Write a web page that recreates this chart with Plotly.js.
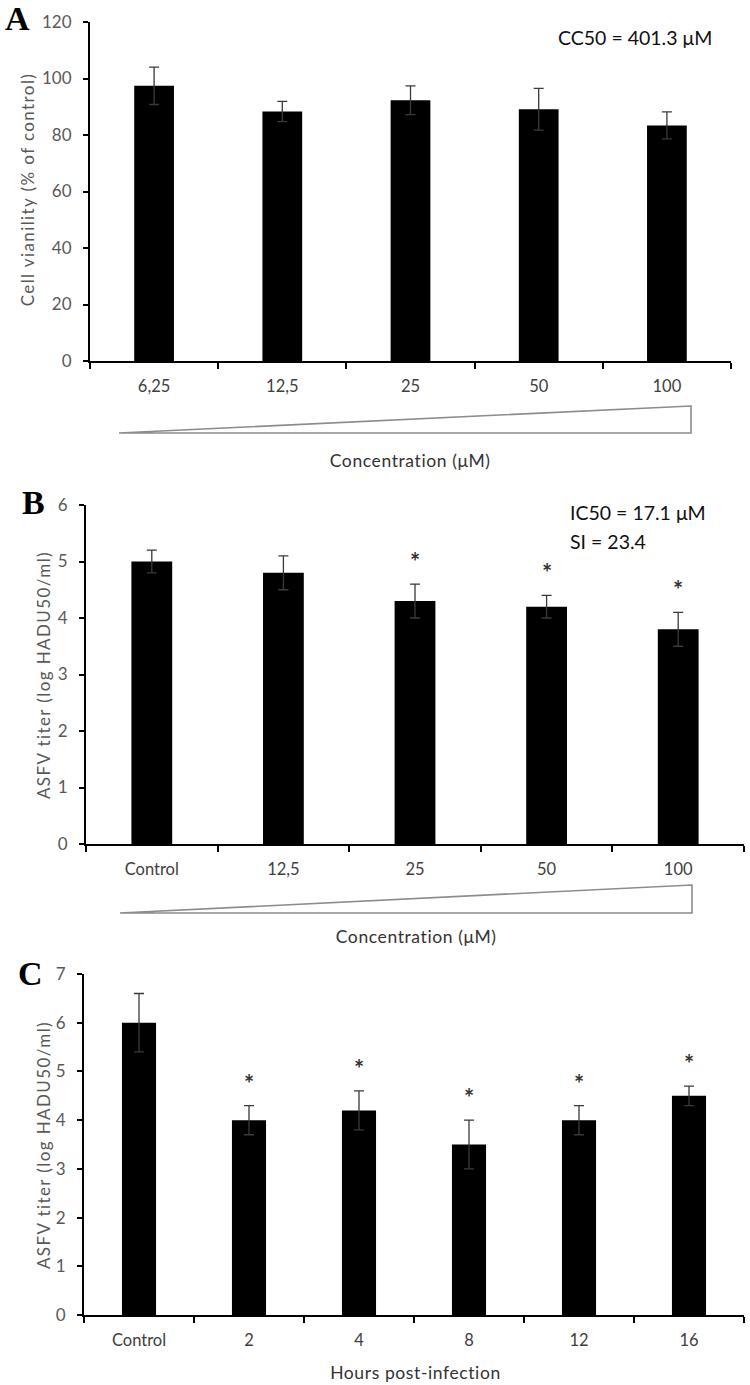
<!DOCTYPE html>
<html>
<head>
<meta charset="utf-8">
<script src="https://cdn.plot.ly/plotly-3.0.1.min.js"></script>
<style>
html,body{margin:0;padding:0;background:#fff;}
#chart{width:750px;height:1385px;}
.annotation.spaced text{letter-spacing:1.4px;}
.annotation.spaced2 text{letter-spacing:0.6px;}
</style>
</head>
<body>
<div id="chart"></div>
<script>
// Panel A: cell viability
const catsA = ["6,25", "12,5", "25", "50", "100"];
const valsA = [97.4, 88.3, 92.3, 89.1, 83.4];
const errA  = [6.6, 3.6, 5.1, 7.4, 4.8];

// Panel B: ASFV titer vs concentration
const catsB = ["Control", "12,5", "25", "50", "100"];
const valsB = [5.0, 4.8, 4.3, 4.2, 3.8];
const errB  = [0.2, 0.3, 0.3, 0.2, 0.3];
const sigB  = [false, false, true, true, true];

// Panel C: ASFV titer vs hours post-infection
const catsC = ["Control", "2", "4", "8", "12", "16"];
const valsC = [6.0, 4.0, 4.2, 3.5, 4.0, 4.5];
const errC  = [0.6, 0.3, 0.4, 0.5, 0.3, 0.2];
const sigC  = [false, true, true, true, true, true];

const W = 750, H = 1385;
const px = v => v / W;
const py = v => 1 - v / H;
const FONT = "Lato, 'Open Sans', sans-serif";

function barTrace(cats, vals, errs, xa, ya) {
  return {
    type: "bar", x: cats, y: vals, xaxis: xa, yaxis: ya,
    width: 0.31,
    marker: {color: "#000000", line: {width: 0}},
    error_y: {type: "data", array: errs, visible: true, color: "#3a3a3a", thickness: 1.3, width: 5},
    hoverinfo: "skip", showlegend: false
  };
}

const data = [
  barTrace(catsA, valsA, errA, "x", "y"),
  barTrace(catsB, valsB, errB, "x2", "y2"),
  barTrace(catsC, valsC, errC, "x3", "y3")
];

function xAxis(domain, anchor, nCats) {
  return {
    domain: domain, anchor: anchor, type: "category",
    range: [-0.5, nCats - 0.5],
    showline: true, linecolor: "#000", linewidth: 2,
    ticks: "outside", tickson: "boundaries", ticklen: 6, tickwidth: 2, tickcolor: "#000",
    showgrid: false, zeroline: false, fixedrange: true,
    ticklabelstandoff: 9,
    tickfont: {family: FONT, size: 16.5, color: "#404040"}
  };
}
function yAxis(domain, anchor, range, dtick) {
  return {
    domain: domain, anchor: anchor, range: range, dtick: dtick,
    showline: true, linecolor: "#000", linewidth: 2,
    ticks: "outside", ticklen: 5, tickwidth: 2, tickcolor: "#000",
    showgrid: false, zeroline: false, fixedrange: true,
    ticklabelstandoff: 8,
    tickfont: {family: FONT, size: 17, color: "#595959"}
  };
}

const annotations = [];
const spacedIdx = [], spaced2Idx = [];
function addText(text, x, y, size, color, opts, cls) {
  if (cls === 1) spacedIdx.push(annotations.length);
  if (cls === 2) spaced2Idx.push(annotations.length);
  annotations.push(Object.assign({
    xref: "paper", yref: "paper", x: px(x), y: py(y), text: text, showarrow: false,
    font: {family: FONT, size: size, color: color}, xanchor: "center", yanchor: "middle"
  }, opts || {}));
}

// Panel letters
const letterFont = "'Liberation Serif', 'Times New Roman', serif";
addText("<b>A</b>", 17, 19, 34, "#000", {font: {family: letterFont, size: 34, color: "#000"}});
addText("<b>B</b>", 33, 502, 34, "#000", {font: {family: letterFont, size: 34, color: "#000"}});
addText("<b>C</b>", 30, 973, 34, "#000", {font: {family: letterFont, size: 34, color: "#000"}});

// Y axis titles
addText("Cell vianility (% of control)", 28, 190, 17, "#595959", {textangle: -90}, 1);
addText("ASFV titer (log HADU50/ml)", 43, 675, 17, "#595959", {textangle: -90}, 1);
addText("ASFV titer (log HADU50/ml)", 43, 1145, 17, "#595959", {textangle: -90}, 1);

// In-plot labels
addText("CC50 = 401.3 \u03bcM", 635, 38, 19.5, "#111");
addText("IC50 = 17.1 \u03bcM", 568, 513, 19.5, "#111", {xanchor: "left"});
addText("SI = 23.4", 568, 541, 19.5, "#111", {xanchor: "left"});

// X titles
addText("Concentration (\u03bcM)", 410, 460, 17.5, "#333", {}, 2);
addText("Concentration (\u03bcM)", 416, 937, 17.5, "#333", {}, 2);
addText("Hours post-infection", 415, 1372, 17.5, "#333", {}, 2);

// Significance asterisks (x given as category index)
function addStars(cats, vals, errs, sig, xa, ya) {
  cats.forEach((c, i) => {
    if (!sig[i]) return;
    annotations.push({
      xref: xa, yref: ya, x: i, y: vals[i] + errs[i], text: "<b>*</b>", showarrow: false,
      xanchor: "center", yanchor: "bottom", yshift: 6,
      font: {family: FONT, size: 24, color: "#333"}
    });
  });
}
addStars(catsB, valsB, errB, sigB, "x2", "y2");
addStars(catsC, valsC, errC, sigC, "x3", "y3");

// Concentration wedges
function wedge(x0, x1, yTop, yBot) {
  return {
    type: "path", xref: "paper", yref: "paper",
    path: `M ${px(x0)} ${py(yBot)} L ${px(x1)} ${py(yTop)} L ${px(x1)} ${py(yBot)} Z`,
    fillcolor: "#ffffff", line: {color: "#8c8c8c", width: 1.6}
  };
}

const layout = {
  width: W, height: H,
  margin: {l: 0, r: 0, t: 0, b: 0},
  paper_bgcolor: "#fff", plot_bgcolor: "rgba(0,0,0,0)",
  showlegend: false,
  font: {family: FONT},
  xaxis: xAxis([px(90), px(731)], "y", catsA.length),
  yaxis: yAxis([py(361), py(22)], "x", [0, 120], 20),
  xaxis2: xAxis([px(86), px(744)], "y2", catsB.length),
  yaxis2: yAxis([py(844), py(505)], "x2", [0, 6], 1),
  xaxis3: xAxis([px(84), px(744)], "y3", catsC.length),
  yaxis3: yAxis([py(1315), py(974)], "x3", [0, 7], 1),
  annotations: annotations,
  shapes: [wedge(119, 691, 406, 433), wedge(120, 692, 885, 913)]
};

function tagAnnotations() {
  document.querySelectorAll("#chart .annotation").forEach(el => {
    const idx = +el.getAttribute("data-index");
    if (spacedIdx.includes(idx)) el.classList.add("spaced");
    if (spaced2Idx.includes(idx)) el.classList.add("spaced2");
  });
}
Plotly.newPlot("chart", data, layout, {staticPlot: true, displayModeBar: false}).then(tagAnnotations);
</script>
</body>
</html>
